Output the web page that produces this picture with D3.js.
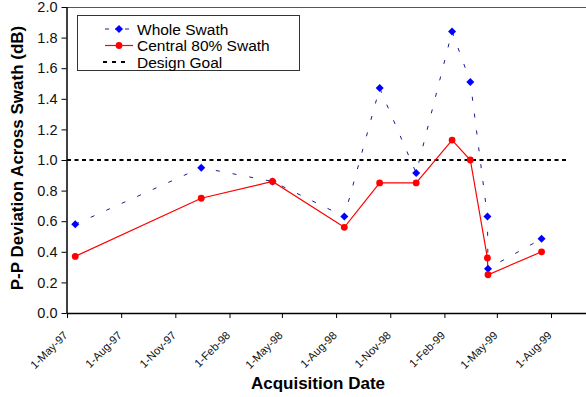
<!DOCTYPE html>
<html>
<head>
<meta charset="utf-8">
<script src="https://cdn.jsdelivr.net/npm/d3@7"></script>
<style>
  html, body { margin: 0; padding: 0; background: #fff; }
  svg { display: block; font-family: "Liberation Sans", Arial, sans-serif; }
</style>
</head>
<body>
<svg id="chart" width="586" height="397"></svg>
<script>
// Acquisition dates and peak-to-peak deviation across the swath (dB)
const acquisitionDates = ["1997-05-15", "1997-12-15", "1998-04-15", "1998-08-15", "1998-10-14",
  "1998-12-15", "1999-02-14", "1999-03-17", "1999-04-15", "1999-04-16", "1999-07-16"];
const wholeSwath = [0.58, 0.95, 0.86, 0.63, 1.47, 0.915, 1.84, 1.51, 0.63, 0.29, 0.485];
const centralSwath = [0.37, 0.75, 0.86, 0.56, 0.85, 0.85, 1.13, 1.00, 0.36, 0.25, 0.40];
const goalDates = ["1997-05-01", "1999-09-01"];
const goalValues = [1.0, 1.0];
const tickDates = ["1997-05-01", "1997-08-01", "1997-11-01", "1998-02-01", "1998-05-01",
  "1998-08-01", "1998-11-01", "1999-02-01", "1999-05-01", "1999-08-01"];
const yTicks = [0, 0.2, 0.4, 0.6, 0.8, 1.0, 1.2, 1.4, 1.6, 1.8, 2.0];
const seriesNames = ["Whole Swath", "Central 80% Swath", "Design Goal"];

const parse = d3.utcParse("%Y-%m-%d");
const fmt = d3.utcFormat("%-d-%b-%y");

const svg = d3.select("#chart");
const plotLeft = 66.5, plotRight = 586, plotTop = 7, plotBottom = 313;

const x = d3.scaleUtc()
  .domain([parse(tickDates[0]), parse(tickDates[tickDates.length - 1])])
  .range([67, 551]);
const y = d3.scaleLinear().domain([0, 2]).range([plotBottom, plotTop]);

// plot frame: top border
svg.append("line")
  .attr("x1", plotLeft).attr("x2", plotRight).attr("y1", plotTop + 0.5).attr("y2", plotTop + 0.5)
  .attr("stroke", "#555").attr("stroke-width", 1.2);

// y axis
const yAxis = svg.append("g").attr("transform", `translate(${plotLeft},0)`)
  .call(d3.axisLeft(y).tickValues(yTicks).tickFormat(d3.format(".1f")).tickSize(5).tickPadding(4));
yAxis.select(".domain").attr("stroke", "#000").attr("stroke-width", 1.5)
  .attr("d", `M0.5,${plotTop}V${plotBottom}`);
yAxis.selectAll(".tick line").attr("stroke", "#000");
yAxis.selectAll(".tick text").attr("font-size", 14.5).attr("fill", "#111")
  .attr("font-family", "'Liberation Sans', Arial, sans-serif");

// x axis
const xAxis = svg.append("g").attr("transform", `translate(0,${plotBottom})`)
  .call(d3.axisBottom(x).tickValues(tickDates.map(parse)).tickFormat(fmt).tickSize(5));
xAxis.select(".domain").attr("stroke", "#000").attr("stroke-width", 1.5)
  .attr("d", `M${plotLeft},0.5H${plotRight}`);
xAxis.selectAll(".tick line").attr("stroke", "#000");
xAxis.selectAll(".tick text")
  .attr("font-size", 11.2).attr("fill", "#111")
  .attr("font-family", "'Liberation Sans', Arial, sans-serif")
  .attr("text-anchor", "end")
  .attr("dy", null).attr("y", null)
  .attr("transform", "translate(1,23) rotate(-45)");

// axis titles
svg.append("text")
  .attr("x", 318).attr("y", 389)
  .attr("text-anchor", "middle").attr("font-weight", "bold").attr("font-size", 17)
  .text("Acquisition Date");
svg.append("text")
  .attr("transform", `translate(23,158) rotate(-90)`)
  .attr("text-anchor", "middle").attr("font-weight", "bold").attr("font-size", 17)
  .text("P-P Deviation Across Swath (dB)");

// design goal
const goal = goalDates.map((d, i) => ({ date: parse(d), value: goalValues[i] }));
const line = d3.line().x(d => x(d.date)).y(d => y(d.value));
svg.append("path").datum(goal)
  .attr("d", line).attr("fill", "none")
  .attr("stroke", "#000").attr("stroke-width", 2).attr("stroke-dasharray", "4,3.5");

// whole swath series
const whole = acquisitionDates.map((d, i) => ({ date: parse(d), value: wholeSwath[i] }));
svg.append("path").datum(whole)
  .attr("d", line).attr("fill", "none")
  .attr("stroke", "#1a1a90").attr("stroke-width", 1).attr("stroke-dasharray", "4,13");

// central 80% series
const central = acquisitionDates.map((d, i) => ({ date: parse(d), value: centralSwath[i] }));
svg.append("path").datum(central)
  .attr("d", line).attr("fill", "none")
  .attr("stroke", "#ff0000").attr("stroke-width", 1.2);

const diamond = (cx, cy, r) => `M${cx},${cy - r}L${cx + r},${cy}L${cx},${cy + r}L${cx - r},${cy}Z`;
svg.append("g").selectAll("path").data(whole).join("path")
  .attr("d", d => diamond(x(d.date), y(d.value), 4)).attr("fill", "#0000ff");
svg.append("g").selectAll("circle").data(central).join("circle")
  .attr("cx", d => x(d.date)).attr("cy", d => y(d.value)).attr("r", 3.4).attr("fill", "#ff0000");

// legend
const lg = svg.append("g");
lg.append("rect").attr("x", 77.5).attr("y", 15.5).attr("width", 222).attr("height", 55)
  .attr("fill", "#fff").attr("stroke", "#333").attr("stroke-width", 1);
const rowsY = [29, 45.5, 62];
const lx1 = 105, lx2 = 133, mx = 119;
// whole swath entry
lg.append("line").attr("x1", lx1).attr("x2", lx2).attr("y1", rowsY[0]).attr("y2", rowsY[0])
  .attr("stroke", "#1a1a90").attr("stroke-width", 1).attr("stroke-dasharray", "4,6");
lg.append("path").attr("d", diamond(mx, rowsY[0], 4)).attr("fill", "#0000ff");
// central entry
lg.append("line").attr("x1", lx1).attr("x2", lx2).attr("y1", rowsY[1]).attr("y2", rowsY[1])
  .attr("stroke", "#ff0000").attr("stroke-width", 1.2);
lg.append("circle").attr("cx", mx).attr("cy", rowsY[1]).attr("r", 3.4).attr("fill", "#ff0000");
// design goal entry
lg.append("line").attr("x1", lx1 - 2).attr("x2", lx2 - 4).attr("y1", rowsY[2]).attr("y2", rowsY[2])
  .attr("stroke", "#000").attr("stroke-width", 2).attr("stroke-dasharray", "4,5");
lg.selectAll("text.item").data(seriesNames).join("text")
  .attr("class", "item")
  .attr("x", 137).attr("y", (d, i) => rowsY[i] + 5.5)
  .attr("font-size", 15.5).attr("fill", "#000")
  .text(d => d);
</script>
</body>
</html>
